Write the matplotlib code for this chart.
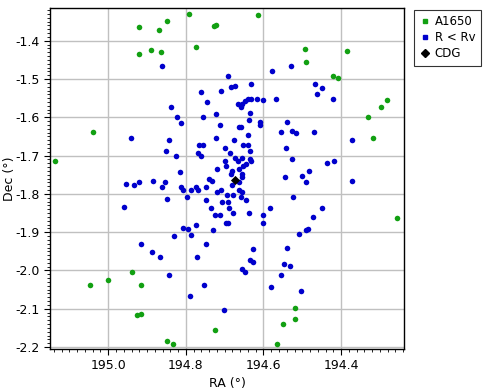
import matplotlib
matplotlib.use("Agg")
import matplotlib.pyplot as plt
from matplotlib.lines import Line2D
from matplotlib.ticker import MultipleLocator, FormatStrFormatter

plt.rcParams['axes.unicode_minus'] = False
plt.rcParams['font.family'] = ['DejaVu Sans']

# A1650 members (green)
ra_a1650 = [194.791, 194.921, 194.848, 194.869, 194.727, 194.722, 194.773, 194.921, 194.889,
            194.863, 195.039, 195.137, 194.613, 194.492, 194.384, 194.490, 194.420, 194.407,
            194.283, 194.296, 194.332, 194.317, 194.256, 194.518, 194.518, 194.549, 194.564,
            194.938, 195.000, 195.046, 194.915, 194.926, 194.915, 194.724, 194.848, 194.832]
dec_a1650 = [-1.331, -1.365, -1.349, -1.373, -1.362, -1.358, -1.417, -1.435, -1.425,
             -1.430, -1.639, -1.713, -1.334, -1.422, -1.428, -1.456, -1.493, -1.498,
             -1.556, -1.574, -1.598, -1.655, -1.862, -2.097, -2.126, -2.141, -2.191,
             -2.005, -2.024, -2.039, -2.039, -2.115, -2.113, -2.155, -2.183, -2.191]

# galaxies inside the virial radius (blue)
ra_rv = [194.861, 194.760, 194.709, 194.745, 194.837, 194.822, 194.755, 194.812, 194.722, 194.711,
         194.941, 194.843, 194.722, 194.765, 194.755, 194.851, 194.825, 194.768, 194.760, 194.814,
         194.719, 194.740, 194.732, 194.691, 194.683, 194.673, 194.665, 194.675, 194.698, 194.662,
         194.577, 194.528, 194.631, 194.467, 194.448, 194.461, 194.420, 194.659, 194.655, 194.647,
         194.640, 194.633, 194.616, 194.601, 194.567, 194.634, 194.637, 194.608, 194.608, 194.657,
         194.539, 194.554, 194.526, 194.515, 194.469, 194.371, 194.639, 194.652, 194.639, 194.634,
         194.541, 194.686, 194.673, 194.665, 194.655, 194.698, 194.696, 194.644, 194.652, 194.634,
         194.631, 194.526, 194.436, 194.418, 194.662, 194.680, 194.683, 194.655, 194.655, 194.544,
         194.500, 194.482, 194.371, 194.954, 194.933, 194.920, 194.884, 194.853, 194.861, 194.848,
         194.812, 194.807, 194.796, 194.786, 194.773, 194.768, 194.747, 194.747, 194.719, 194.735,
         194.724, 194.711, 194.959, 194.807, 194.794, 194.786, 194.773, 194.729, 194.830, 194.915,
         194.747, 194.887, 194.866, 194.771, 194.843, 194.753, 194.789, 194.680, 194.662, 194.709,
         194.693, 194.678, 194.662, 194.655, 194.706, 194.691, 194.688, 194.678, 194.696, 194.691,
         194.657, 194.644, 194.490, 194.523, 194.582, 194.637, 194.601, 194.601, 194.448, 194.472,
         194.485, 194.490, 194.508, 194.626, 194.539, 194.634, 194.626, 194.546, 194.531, 194.655,
         194.647, 194.554, 194.580, 194.503, 194.701]
dec_rv = [-1.467, -1.535, -1.530, -1.561, -1.572, -1.600, -1.600, -1.616, -1.592, -1.621,
          -1.653, -1.660, -1.653, -1.671, -1.673, -1.687, -1.702, -1.694, -1.702, -1.744,
          -1.736, -1.760, -1.765, -1.493, -1.522, -1.519, -1.566, -1.660, -1.679, -1.624,
          -1.480, -1.467, -1.514, -1.514, -1.524, -1.538, -1.553, -1.574, -1.564, -1.558,
          -1.553, -1.551, -1.551, -1.556, -1.551, -1.590, -1.606, -1.611, -1.619, -1.624,
          -1.613, -1.639, -1.637, -1.642, -1.639, -1.660, -1.647, -1.673, -1.671, -1.689,
          -1.679, -1.694, -1.707, -1.715, -1.707, -1.715, -1.726, -1.721, -1.726, -1.710,
          -1.715, -1.710, -1.718, -1.713, -1.736, -1.739, -1.747, -1.749, -1.755, -1.755,
          -1.752, -1.739, -1.765, -1.773, -1.778, -1.768, -1.765, -1.770, -1.783, -1.812,
          -1.783, -1.791, -1.807, -1.789, -1.783, -1.789, -1.781, -1.815, -1.796, -1.838,
          -1.854, -1.854, -1.833, -1.888, -1.891, -1.906, -1.880, -1.893, -1.911, -1.930,
          -1.932, -1.951, -1.964, -1.964, -2.013, -2.039, -2.066, -1.778, -1.770, -1.789,
          -1.804, -1.802, -1.791, -1.794, -1.822, -1.820, -1.836, -1.849, -1.875, -1.875,
          -1.807, -1.815, -1.770, -1.807, -1.836, -1.849, -1.854, -1.877, -1.836, -1.859,
          -1.891, -1.893, -1.904, -1.945, -1.940, -1.972, -1.977, -1.982, -1.987, -1.995,
          -2.003, -2.013, -2.042, -2.053, -2.102]

# central dominant galaxy
ra_cdg = [194.673]
dec_cdg = [-1.764]

green = '#12a012'
blue = '#0000cc'

fig = plt.figure(figsize=(4.88, 3.90), dpi=100)
ax = fig.add_axes([50/488, 41/390, 354/488, 341/390])

ax.scatter(ra_a1650, dec_a1650, s=16, c=green, linewidths=0, zorder=3)
ax.scatter(ra_rv, dec_rv, s=16, c=blue, linewidths=0, zorder=3)
ax.scatter(ra_cdg, dec_cdg, s=22, c='black', marker='D', linewidths=0, zorder=4)

ax.set_xlim(195.150, 194.238)
ax.set_ylim(-2.205, -1.3145)
ax.xaxis.set_major_locator(MultipleLocator(0.2))
ax.xaxis.set_minor_locator(MultipleLocator(0.02))
ax.yaxis.set_major_locator(MultipleLocator(0.1))
ax.yaxis.set_minor_locator(MultipleLocator(0.01))
ax.xaxis.set_major_formatter(FormatStrFormatter('%.1f'))
ax.yaxis.set_major_formatter(FormatStrFormatter('%.1f'))
ax.tick_params(which='major', length=4, width=0.8, labelsize=9, direction='out')
ax.tick_params(which='minor', length=2, width=0.6, direction='out')
ax.grid(True, which='major', color='#c0c0c0', linewidth=1, zorder=0)
ax.set_axisbelow(True)
for sp in ax.spines.values():
    sp.set_linewidth(1)
    sp.set_color('black')

ax.set_xlabel('RA (°)', fontsize=9, labelpad=3)
ax.set_ylabel('Dec (°)', fontsize=9)
ax.yaxis.set_label_coords(-0.097, 0.5)

handles = [
    Line2D([], [], linestyle='none', marker='s', markersize=3, color=green, label='A1650'),
    Line2D([], [], linestyle='none', marker='s', markersize=3, color=blue, label='R < Rv'),
    Line2D([], [], linestyle='none', marker='D', markersize=4, color='black', label='CDG'),
]
leg = fig.legend(handles=handles, loc='upper left', bbox_to_anchor=(414/488, 1 - 10/390),
                 fontsize=8.5, frameon=True, fancybox=False, borderpad=0.45,
                 handletextpad=0.3, labelspacing=0.25, handlelength=1.0, borderaxespad=0)
leg.get_frame().set_edgecolor('black')
leg.get_frame().set_linewidth(0.8)

fig.savefig('out.png', dpi=100)
